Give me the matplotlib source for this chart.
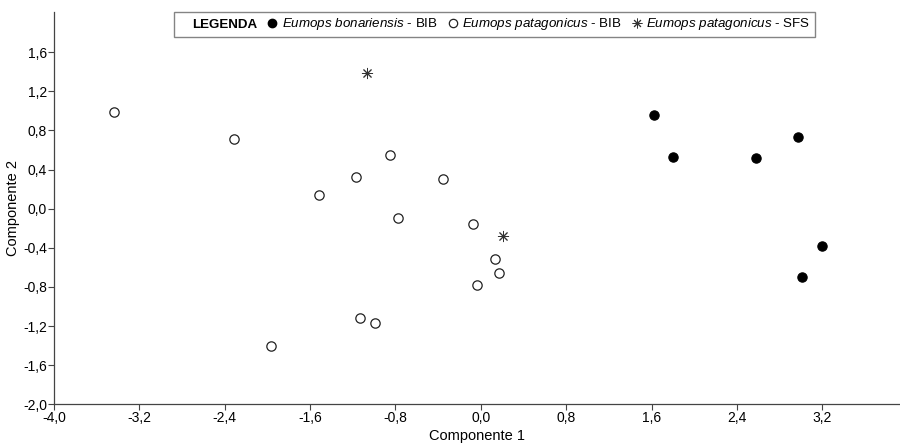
import matplotlib
matplotlib.use("Agg")
import matplotlib.pyplot as plt
from matplotlib.lines import Line2D
import numpy as np

plt.rcParams['font.family'] = ['Liberation Sans', 'DejaVu Sans']
plt.rcParams['mathtext.fontset'] = 'custom'
plt.rcParams['mathtext.rm'] = 'Liberation Sans'
plt.rcParams['mathtext.it'] = 'Liberation Sans:italic'

# Eumops bonariensis - BIB (filled)
bon_x = [1.62, 1.80, 2.58, 2.97, 3.20, 3.01]
bon_y = [0.96, 0.53, 0.52, 0.73, -0.38, -0.70]

# Eumops patagonicus - BIB (open)
pat_x = [-3.44, -2.31, -0.85, -1.17, -1.52, -0.35, -0.78, -0.07, 0.13, 0.17,
         -0.04, -1.13, -0.99, -1.97]
pat_y = [0.99, 0.71, 0.55, 0.32, 0.14, 0.30, -0.10, -0.16, -0.51, -0.66,
         -0.78, -1.12, -1.17, -1.40]

# Eumops patagonicus - SFS (asterisk)
sfs_x = [-1.07, 0.21]
sfs_y = [1.39, -0.28]

xticks = np.arange(-4.0, 3.3, 0.8)
yticks = np.arange(-2.0, 1.7, 0.4)

fig = plt.figure(figsize=(9, 4.46), dpi=100)
ax = fig.add_axes([0.06, 0.0935, 0.939, 0.8795])

ax.scatter(bon_x, bon_y, s=45, c='black', edgecolors='black', linewidths=0.8, zorder=3)
ax.scatter(pat_x, pat_y, s=45, facecolors='white', edgecolors='#222222', linewidths=0.9, zorder=3)
ax.scatter(sfs_x, sfs_y, s=55, marker=(8, 2, 0), c='#333333', linewidths=0.7, zorder=3)

ax.set_xlim(-4.0, 3.92)
ax.set_ylim(-2.0, 2.01)
ax.set_xticks(xticks)
ax.set_yticks(yticks)
ax.set_xticklabels([f"{v:.1f}".replace('.', ',').replace('-0,0', '0,0') for v in xticks])
ax.set_yticklabels([f"{v:.1f}".replace('.', ',').replace('-0,0', '0,0') for v in yticks])
ax.tick_params(labelsize=10, length=4, width=0.8, color='#444444', pad=1)

for s in ['top', 'right']:
    ax.spines[s].set_visible(False)
for s in ['left', 'bottom']:
    ax.spines[s].set_color('#444444')
    ax.spines[s].set_linewidth(0.9)

ax.set_xlabel("Componente 1", fontsize=10.5, labelpad=3)
ax.set_ylabel("Componente 2", fontsize=10.5, labelpad=2)

handles = [
    Line2D([], [], linestyle='none'),
    Line2D([], [], linestyle='none', marker='o', markersize=6, color='black'),
    Line2D([], [], linestyle='none', marker='o', markersize=6, markerfacecolor='white',
           markeredgecolor='#222222', markeredgewidth=0.9),
    Line2D([], [], linestyle='none', marker=(8, 2, 0), markersize=7, color='#333333',
           markeredgewidth=0.7),
]
labels = [
    "LEGENDA",
    r"$\it{Eumops\ bonariensis}$ - BIB",
    r"$\it{Eumops\ patagonicus}$ - BIB",
    r"$\it{Eumops\ patagonicus}$ - SFS",
]
leg = fig.legend(handles, labels, ncol=4, loc='center', bbox_to_anchor=(494.5 / 900, 1 - 24.5 / 446),
                 fontsize=9.6, frameon=True, fancybox=False, edgecolor='#666666',
                 handlelength=0.6, handletextpad=0.4, columnspacing=0.85, borderpad=0.35)
leg.get_frame().set_linewidth(1.0)
leg.get_texts()[0].set_fontweight('bold')

fig.savefig("out.png", dpi=100)
